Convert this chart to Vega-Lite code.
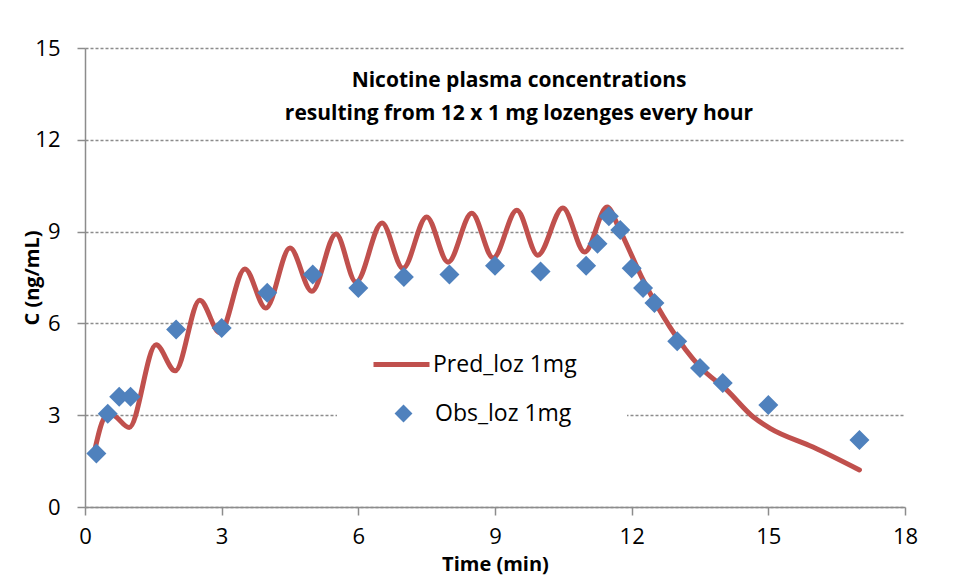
{
  "$schema": "https://vega.github.io/schema/vega-lite/v6.json",
  "width": 820,
  "height": 459,
  "autosize": "none",
  "padding": {"left": 85, "top": 48, "right": 49, "bottom": 73},
  "background": "white",
  "config": {
    "font": "Open Sans",
    "view": {"stroke": null},
    "axis": {
      "labelFont": "Open Sans",
      "labelFontSize": 22,
      "labelColor": "#000",
      "titleFont": "Open Sans",
      "titleFontSize": 20,
      "titleFontWeight": "bold",
      "titleColor": "#000",
      "domainColor": "#8c8c8c",
      "domainWidth": 1.5,
      "tickColor": "#8c8c8c",
      "tickWidth": 1.5,
      "tickSize": 8
    }
  },
  "title": {
    "text": ["Nicotine plasma concentrations", "resulting from  12 x 1 mg lozenges every hour"],
    "font": "Open Sans",
    "fontSize": 21,
    "fontWeight": "bold",
    "color": "#000",
    "lineHeight": 33,
    "anchor": "middle",
    "baseline": "top",
    "offset": 0,
    "dx": 24,
    "dy": 87
  },
  "datasets": {
    "pred": [
      {"t": 0.22, "c": 1.9},
      {"t": 0.45, "c": 2.95},
      {"t": 0.6, "c": 3.0},
      {"t": 0.97, "c": 2.6},
      {"t": 1.56, "c": 5.3},
      {"t": 1.98, "c": 4.45},
      {"t": 2.52, "c": 6.76},
      {"t": 2.96, "c": 5.7},
      {"t": 3.51, "c": 7.78},
      {"t": 3.97, "c": 6.5},
      {"t": 4.5, "c": 8.46},
      {"t": 4.98, "c": 7.05},
      {"t": 5.51, "c": 8.92},
      {"t": 5.95, "c": 7.35},
      {"t": 6.52, "c": 9.28},
      {"t": 6.98, "c": 7.8},
      {"t": 7.5, "c": 9.48},
      {"t": 7.97, "c": 8.0},
      {"t": 8.49, "c": 9.6},
      {"t": 8.96, "c": 8.14},
      {"t": 9.48, "c": 9.7},
      {"t": 9.94, "c": 8.23},
      {"t": 10.49, "c": 9.77},
      {"t": 10.97, "c": 8.33},
      {"t": 11.46, "c": 9.8},
      {"t": 11.74, "c": 9.05},
      {"t": 12.25, "c": 7.42},
      {"t": 12.84, "c": 5.88},
      {"t": 13.5, "c": 4.58},
      {"t": 14.09, "c": 3.82},
      {"t": 14.67, "c": 2.94},
      {"t": 15.03, "c": 2.58},
      {"t": 15.98, "c": 1.96},
      {"t": 17.0, "c": 1.21}
    ],
    "obs": [
      {"t": 0.25, "c": 1.75},
      {"t": 0.5, "c": 3.05},
      {"t": 0.75, "c": 3.6},
      {"t": 1.0, "c": 3.6},
      {"t": 2.0, "c": 5.8},
      {"t": 3.0, "c": 5.85},
      {"t": 4.0, "c": 7.0},
      {"t": 5.0, "c": 7.6},
      {"t": 6.0, "c": 7.16},
      {"t": 7.0, "c": 7.52},
      {"t": 8.0, "c": 7.6},
      {"t": 9.0, "c": 7.88},
      {"t": 10.0, "c": 7.7},
      {"t": 11.0, "c": 7.88},
      {"t": 11.25, "c": 8.6},
      {"t": 11.5, "c": 9.5},
      {"t": 11.75, "c": 9.05},
      {"t": 12.0, "c": 7.8},
      {"t": 12.25, "c": 7.16},
      {"t": 12.5, "c": 6.67},
      {"t": 13.0, "c": 5.42},
      {"t": 13.5, "c": 4.54},
      {"t": 14.0, "c": 4.05},
      {"t": 15.0, "c": 3.33},
      {"t": 17.0, "c": 2.19}
    ]
  },
  "encoding": {
    "x": {
      "field": "t",
      "type": "quantitative",
      "scale": {"domain": [0, 18], "nice": false},
      "axis": {
        "title": "Time (min)",
        "values": [0, 3, 6, 9, 12, 15, 18],
        "grid": false,
        "labelFlush": false,
        "labelPadding": 11,
        "titlePadding": 7
      }
    },
    "y": {
      "field": "c",
      "type": "quantitative",
      "scale": {"domain": [0, 15], "nice": false},
      "axis": {
        "title": "C (ng/mL)",
        "values": [0, 3, 6, 9, 12, 15],
        "grid": true,
        "gridColor": "#8c8c8c",
        "gridDash": [3, 2],
        "gridWidth": 1.5,
        "labelFlush": false,
        "labelPadding": 17,
        "titlePadding": -8
      }
    }
  },
  "layer": [
    {
      "data": {"name": "pred"},
      "mark": {"type": "line", "interpolate": "monotone", "strokeWidth": 5, "strokeCap": "round", "strokeJoin": "round"},
      "encoding": {
        "stroke": {
          "datum": "Pred_loz 1mg",
          "scale": {"range": ["#C0504D"]},
          "legend": {
            "title": null,
            "orient": "none",
            "legendX": 284,
            "legendY": 284,
            "padding": 2,
            "fillColor": "white",
            "symbolType": "stroke",
            "symbolStrokeWidth": 5,
            "symbolSize": 3136,
            "labelFont": "Open Sans",
            "labelFontSize": 23,
            "labelColor": "#000",
            "labelOffset": 1,
            "zindex": 2
          }
        }
      }
    },
    {
      "data": {"name": "obs"},
      "mark": {"type": "point", "filled": true, "fill": "#4F81BD", "size": 400, "opacity": 1, "strokeWidth": 0},
      "encoding": {
        "shape": {
          "datum": "Obs_loz 1mg",
          "scale": {"range": ["diamond"]},
          "legend": {
            "title": null,
            "orient": "none",
            "legendX": 252,
            "legendY": 299,
            "padding": 55,
            "fillColor": "white",
            "symbolSize": 320,
            "symbolFillColor": "#4F81BD",
            "symbolStrokeWidth": 0,
            "symbolOpacity": 1,
            "labelFont": "Open Sans",
            "labelFontSize": 23,
            "labelColor": "#000",
            "labelOffset": 20,
            "zindex": 1
          }
        }
      }
    }
  ]
}
